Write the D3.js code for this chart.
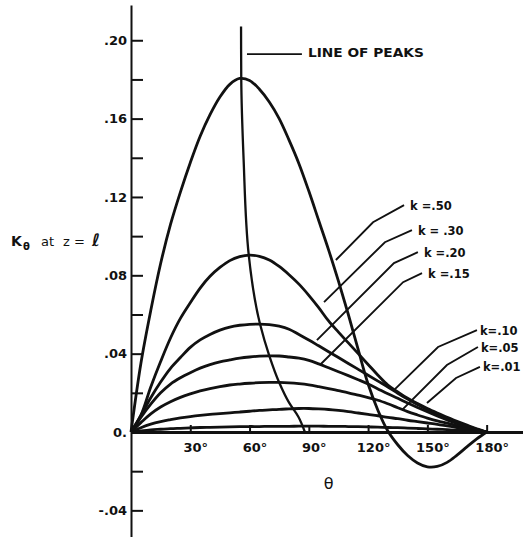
<!DOCTYPE html>
<html>
<head>
<meta charset="utf-8">
<script src="https://cdn.jsdelivr.net/npm/d3@7"></script>
<style>
  html, body { margin: 0; padding: 0; background: #fff; }
  svg { display: block; }
  text { font-family: "DejaVu Sans", sans-serif; fill: #111; }
</style>
</head>
<body>
<svg id="chart" width="523" height="537"></svg>
<script>
// ---------------- DATA ----------------
const theta = [0,5,10,15,20,25,30,35,40,45,50,55,60,65,70,75,80,85,90,95,100,105,110,115,120,125,130,135,140,145,150,155,160,165,170,175,180];

const k50 = [0,.035,.062,.086,.106,.1225,.1375,.151,.162,.171,.1775,.1805,.1795,.175,.1685,.160,.149,.137,.123,.108,.093,.077,.060,.042,.0245,.011,.0005,-.0065,-.012,-.0158,-.0178,-.0176,-.0155,-.0118,-.0076,-.0035,0];
const k30 = [0,.0085,.023,.036,.048,.058,.066,.0735,.0795,.084,.0875,.0895,.0903,.0897,.0878,.0845,.0803,.0755,.0698,.0635,.0567,.051,.0455,.040,.0345,.029,.024,.0205,.0172,.0145,.012,.0097,.0075,.0055,.0035,.0016,0];
const k20 = [0,.0085,.0175,.0255,.0325,.038,.0432,.047,.0498,.052,.0536,.0545,.055,.0551,.0548,.054,.0525,.0498,.047,.044,.041,.038,.035,.032,.029,.026,.023,.0198,.0168,.014,.0115,.0092,.007,.005,.0031,.0014,0];
const k15 = [0,.0075,.0142,.020,.0245,.0277,.0303,.0326,.0344,.0358,.0368,.0377,.0383,.0387,.0389,.0388,.0383,.0377,.0366,.0348,.0328,.0308,.0288,.0267,.0245,.022,.0195,.0172,.0148,.0125,.0103,.0082,.0062,.0044,.0027,.0012,0];
const k10 = [0,.0048,.0093,.0128,.0155,.0177,.0195,.021,.0222,.0232,.024,.0245,.0249,.0252,.0253,.0253,.0251,.0247,.0241,.0232,.0222,.0211,.020,.0188,.0176,.0162,.0144,.0124,.0104,.0087,.0071,.0057,.0045,.0033,.0021,.001,0];
const k05 = [0,.0022,.004,.0053,.0063,.0072,.0079,.0085,.009,.0094,.0098,.0102,.0106,.011,.0113,.0116,.0118,.012,.012,.0118,.0115,.011,.0104,.0097,.009,.0083,.0075,.0068,.006,.0053,.0046,.0039,.0031,.0023,.0015,.0007,0];
const k01 = [0,.0006,.0011,.0014,.0017,.0019,.0021,.0023,.0024,.0025,.0026,.0027,.0028,.0028,.0029,.0029,.0029,.003,.003,.003,.0029,.0029,.0028,.0027,.0026,.0025,.0023,.0022,.002,.0018,.0016,.0014,.0012,.001,.0007,.0004,0];

const seriesNames = ["k =.50", "k = .30", "k =.20", "k =.15", "k=.10", "k=.05", "k=.01"];
const seriesValues = [k50, k30, k20, k15, k10, k05, k01];

// line of peaks
const peaksTheta = [55.7, 55.8, 57.0, 59.6, 65.3, 70, 75, 80, 84.7, 88];
const peaksValue = [.207, .1805, .139, .0903, .0551, .0389, .0253, .015, .0078, 0];

// label leader polylines (theta, value) for each series label
const leaderTheta = [
  [103.7, 122.5, 138.2],
  [97.7, 128.5, 142.2],
  [94.1, 133.1, 145.2],
  [95.6, 137.7, 147.3],
  [133.6, 155.4, 175.1],
  [137.1, 159.9, 175.6],
  [149.8, 164.5, 176.6]
];
const leaderValue = [
  [.0878, .1071, .1158],
  [.0663, .0969, .1031],
  [.0469, .0862, .0918],
  [.0342, .0765, .0811],
  [.0219, .0434, .052],
  [.0112, .0342, .0434],
  [.0148, .0276, .0332]
];

const peaksLabel = "LINE OF PEAKS";
const peaksLeaderTheta = [58.7, 86.5];
const peaksLeaderValue = .1929;

const xTicks = [30, 60, 90, 120, 150, 180];
const xTickLabels = ["30°", "60°", "90°", "120°", "150°", "180°"];
const yMajorTicks = [-0.04, 0, 0.04, 0.08, 0.12, 0.16, 0.20];
const yMajorLabels = ["-.04", "0.", ".04", ".08", ".12", ".16", ".20"];
const yMinorTicks = [-0.02, 0.02, 0.06, 0.10, 0.14, 0.18];

// ---------------- CHART ----------------
const svg = d3.select("#chart");
const x = d3.scaleLinear().domain([0, 198.4]).range([131, 523]);
const y = d3.scaleLinear().domain([-0.0536, 0.218]).range([537, 5]);

// Y axis
const yAll = yMajorTicks.concat(yMinorTicks).sort((a, b) => a - b);
const yAxis = d3.axisLeft(y)
  .tickValues(yAll)
  .tickSizeInner(-12)
  .tickSizeOuter(0)
  .tickPadding(4)
  .tickFormat(d => {
    const i = yMajorTicks.findIndex(v => Math.abs(v - d) < 1e-9);
    return i >= 0 ? yMajorLabels[i] : "";
  });
const gy = svg.append("g").attr("transform", `translate(${x(0)},0)`).call(yAxis);
gy.select(".domain").attr("stroke", "#111").attr("stroke-width", 2);
gy.selectAll(".tick line").attr("stroke", "#111").attr("stroke-width", 2);
gy.selectAll(".tick text").attr("font-size", 13).attr("font-weight", "bold")
  .attr("font-family", "DejaVu Sans, sans-serif").attr("fill", "#111");

// X axis
const xAxis = d3.axisBottom(x)
  .tickValues(xTicks)
  .tickSizeInner(-7)
  .tickSizeOuter(0)
  .tickPadding(11)
  .tickFormat((d, i) => xTickLabels[i]);
const gx = svg.append("g").attr("transform", `translate(0,${y(0)})`).call(xAxis);
gx.select(".domain").attr("stroke", "#111").attr("stroke-width", 3);
gx.selectAll(".tick line").attr("stroke", "#111").attr("stroke-width", 2);
gx.selectAll(".tick text").attr("font-size", 13).attr("font-weight", "bold")
  .attr("font-family", "DejaVu Sans, sans-serif").attr("fill", "#111").attr("dx", 5);

// Curves
const line = d3.line()
  .x(d => x(d[0]))
  .y(d => y(d[1]))
  .curve(d3.curveCatmullRom.alpha(0.5));

seriesValues.forEach((vals, i) => {
  svg.append("path")
    .datum(theta.map((t, j) => [t, vals[j]]))
    .attr("d", line)
    .attr("fill", "none")
    .attr("stroke", "#111")
    .attr("stroke-width", 2.8)
    .attr("stroke-linejoin", "round");
});

// Line of peaks
const peakLine = d3.line()
  .x(d => x(d[0]))
  .y(d => y(d[1]))
  .curve(d3.curveMonotoneY);
svg.append("path")
  .datum(peaksTheta.map((t, j) => [t, peaksValue[j]]))
  .attr("d", peakLine)
  .attr("fill", "none")
  .attr("stroke", "#111")
  .attr("stroke-width", 2.3);

// Line of peaks label
svg.append("line")
  .attr("x1", x(peaksLeaderTheta[0])).attr("x2", x(peaksLeaderTheta[1]))
  .attr("y1", y(peaksLeaderValue)).attr("y2", y(peaksLeaderValue))
  .attr("stroke", "#111").attr("stroke-width", 1.8);
svg.append("text")
  .attr("x", x(peaksLeaderTheta[1]) + 6)
  .attr("y", y(peaksLeaderValue) + 3)
  .attr("font-size", 13).attr("font-weight", "bold")
  .attr("textLength", 116).attr("lengthAdjust", "spacingAndGlyphs")
  .text(peaksLabel);

// Series leaders and labels
const straight = d3.line().x(d => x(d[0])).y(d => y(d[1]));
seriesNames.forEach((name, i) => {
  const pts = leaderTheta[i].map((t, j) => [t, leaderValue[i][j]]);
  svg.append("path")
    .datum(pts)
    .attr("d", straight)
    .attr("fill", "none")
    .attr("stroke", "#111")
    .attr("stroke-width", 1.9);
  const end = pts[pts.length - 1];
  svg.append("text")
    .attr("x", x(end[0]) + (i >= 4 ? 3 : 6))
    .attr("y", y(end[1]) + 4.5)
    .attr("font-size", 11.5).attr("font-weight", "bold")
    .text(name);
});

// Axis titles
svg.append("text")
  .attr("x", x(100)).attr("y", 489)
  .attr("text-anchor", "middle")
  .attr("font-size", 16)
  .text("θ");

const yl = svg.append("text").attr("y", 246).attr("font-size", 14).attr("font-weight", "bold");
yl.append("tspan").attr("x", 11).text("K");
yl.append("tspan").attr("x", 23).attr("dy", 4).attr("font-size", 10).text("θ");
yl.append("tspan").attr("x", 41).attr("dy", -4).attr("font-size", 13).attr("font-weight", "normal").text("at");
yl.append("tspan").attr("x", 63).attr("font-size", 13).attr("font-weight", "normal").text("z");
yl.append("tspan").attr("x", 74).attr("font-size", 13).attr("font-weight", "normal").text("=");
yl.append("tspan").attr("x", 92).attr("font-size", 17).attr("font-weight", "bold").text("ℓ");
</script>
</body>
</html>
